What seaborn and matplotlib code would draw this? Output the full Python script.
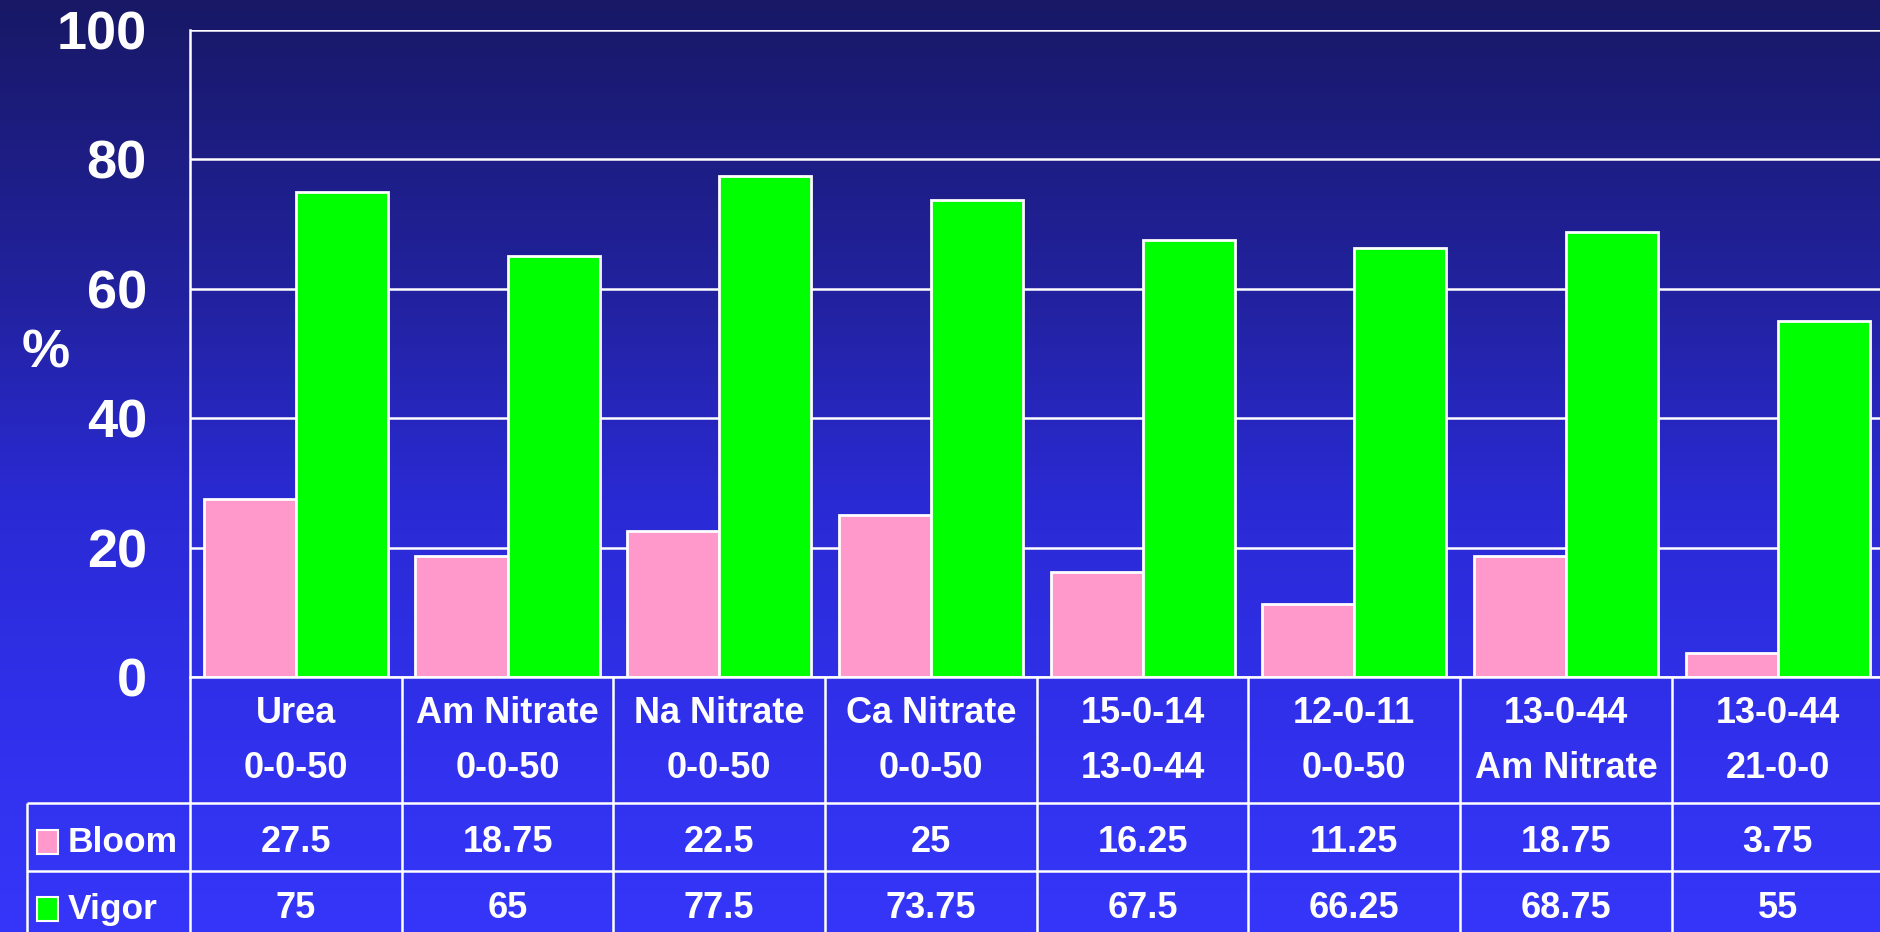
import seaborn as sns
import matplotlib.pyplot as plt
import numpy as np
import pandas as pd
from matplotlib.patches import Rectangle

# data
categories = ["Urea\n0-0-50", "Am Nitrate\n0-0-50", "Na Nitrate\n0-0-50", "Ca Nitrate\n0-0-50",
              "15-0-14\n13-0-44", "12-0-11\n0-0-50", "13-0-44\nAm Nitrate", "13-0-44\n21-0-0"]
bloom = [27.5, 18.75, 22.5, 25, 16.25, 11.25, 18.75, 3.75]
vigor = [75, 65, 77.5, 73.75, 67.5, 66.25, 68.75, 55]
series = ["Bloom", "Vigor"]
colors = ["#FF99CC", "#00FF00"]
yticks = [0, 20, 40, 60, 80, 100]

df = pd.DataFrame({
    "Treatment": categories * 2,
    "Series": [series[0]] * len(bloom) + [series[1]] * len(vigor),
    "Value": bloom + vigor,
})

sns.set_style("white")
plt.rcParams["font.family"] = ["Liberation Sans", "DejaVu Sans"]
plt.rcParams["font.weight"] = "bold"

W, H = 1880, 932
fig = plt.figure(figsize=(W / 100, H / 100), dpi=100)

# slide-style vertical gradient background
rows = np.arange(H)
stops = [0, 300, 500, 700, H]
r = np.interp(rows, stops, [24, 34, 42, 48, 54])
g = np.interp(rows, stops, [24, 34, 42, 48, 54])
b = np.interp(rows, stops, [102, 160, 212, 234, 250])
grad = np.stack([r, g, b], axis=1)[:, None, :] / 255.0
bg = fig.add_axes([0, 0, 1, 1])
bg.imshow(grad, aspect="auto", extent=[0, 1, 0, 1])
bg.axis("off")

# plot area (right edge runs slightly past the figure, as in the reference)
x_left, x_right, y_top, y_zero = 190, 1883.6, 30, 677
ax = fig.add_axes([x_left / W, 1 - y_zero / H, (x_right - x_left) / W, (y_zero - y_top) / H])
ax.patch.set_alpha(0)
sns.barplot(df, x="Treatment", y="Value", hue="Series", palette=colors, saturation=1,
            width=0.87, edgecolor="white", linewidth=2, legend=False, ax=ax)
ax.set_xlim(-0.5, len(categories) - 0.5)
ax.set_ylim(0, 100)
ax.set_yticks(yticks)
ax.yaxis.grid(True, color="white", linewidth=1.8)
ax.set_axisbelow(True)
ax.tick_params(axis="y", labelsize=39, pad=18, length=13, width=1.8, colors="white")
ax.tick_params(axis="x", length=0, labelbottom=False)
ax.set_xlabel("")
for s in ["top", "right"]:
    ax.spines[s].set_visible(False)
for s in ["left", "bottom"]:
    ax.spines[s].set_color("white")
    ax.spines[s].set_linewidth(1.8)
ax.set_ylabel("%", rotation=0, fontsize=39, fontweight="bold", color="white",
              ha="center", va="center")
ax.yaxis.set_label_coords((46 - x_left) / (x_right - x_left), (y_zero - 353) / (y_zero - y_top))

# data table under the chart
cat_w = (x_right - x_left) / len(categories)


def cx(px):
    return -0.5 + (px - x_left) / cat_w


tab_bottom = 940
tax = fig.add_axes([26 / W, 1 - tab_bottom / H, (x_right - 26) / W, (tab_bottom - y_zero) / H])
tax.set_xlim(cx(26), len(categories) - 0.5)
tax.set_ylim(tab_bottom, y_zero)
tax.axis("off")

row_tops = [803, 871]
tax.hlines(row_tops, cx(27), len(categories) - 0.5, colors="white", linewidth=1.8, clip_on=False)
tax.vlines(np.arange(len(categories) + 1) - 0.5, y_zero, tab_bottom, colors="white",
           linewidth=1.8, clip_on=False)
tax.vlines(cx(27), row_tops[0], tab_bottom, colors="white", linewidth=1.8, clip_on=False)

for i, c in enumerate(categories):
    tax.text(i, 741, c, ha="center", va="center", fontsize=26, color="white", linespacing=1.75)

row_centers = [842, 909]
for name, vals, col, yc in zip(series, [bloom, vigor], colors, row_centers):
    tax.add_patch(Rectangle((cx(37), yc - 12), 21 / cat_w, 24, facecolor=col,
                            edgecolor="white", linewidth=1.5))
    tax.text(cx(68), yc, name, ha="left", va="center", fontsize=25.5, color="white")
    for i, v in enumerate(vals):
        tax.text(i, yc, f"{v:g}", ha="center", va="center", fontsize=26, color="white")

fig.savefig("out.png", dpi=100)
